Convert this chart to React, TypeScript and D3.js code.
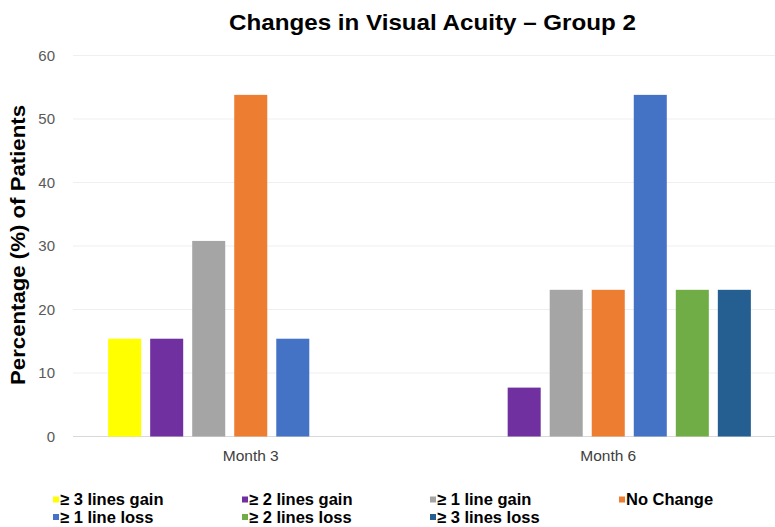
import React from "react";
import * as d3 from "d3";

const categories = ["Month 3", "Month 6"];
const seriesNames = [
  "≥ 3 lines gain",
  "≥ 2 lines gain",
  "≥ 1 line gain",
  "No Change",
  "≥ 1 line loss",
  "≥ 2 lines loss",
  "≥ 3 lines loss",
];
const seriesColors = ["#FFFF00", "#7030A0", "#A5A5A5", "#ED7D31", "#4472C4", "#70AD47", "#255E91"];
// values per series: [Month 3, Month 6]
const month3Values = [15.4, 15.4, 30.8, 53.8, 15.4, 0, 0];
const month6Values = [0, 7.7, 23.1, 23.1, 53.8, 23.1, 23.1];
const yTicks = [0, 10, 20, 30, 40, 50, 60];

const W = 775;
const H = 527;

export default function App() {
  const x0 = d3.scaleBand<string>().domain(categories).range([72, 787]).paddingInner(0).paddingOuter(0);
  const x1 = d3
    .scaleBand<string>()
    .domain(seriesNames)
    .range([0, x0.bandwidth()])
    .paddingInner(9 / 42)
    .paddingOuter(0.86);
  const y = d3.scaleLinear().domain([0, 60]).range([436.5, 55.5]);
  const valuesByCat = [month3Values, month6Values];
  const font = "'Liberation Sans', Arial, sans-serif";

  const legendCols = [53, 242, 430, 619];
  const legendRows = [499.5, 517];

  return (
    <svg
      width={W}
      height={H}
      style={{ position: "absolute", left: 0, top: 0, background: "#fff" }}
      fontFamily={font}
    >
      <rect x={0} y={0} width={W} height={H} fill="#fff" />
      {yTicks.map((t) => (
        <g key={t}>
          <line x1={73} x2={W} y1={y(t)} y2={y(t)} stroke={t === 0 ? "#D9D9D9" : "#EFEFEF"} strokeWidth={1} />
          <text x={55} y={y(t)} dy="0.35em" textAnchor="end" fontSize={15} fill="#595959">
            {t}
          </text>
        </g>
      ))}
      {categories.map((c, ci) => (
        <g key={c} transform={`translate(${x0(c)},0)`}>
          {seriesNames.map((s, si) => {
            const v = valuesByCat[ci][si];
            if (!v) return null;
            return (
              <rect
                key={s}
                x={x1(s)}
                y={y(v)}
                width={x1.bandwidth()}
                height={y(0) - y(v)}
                fill={seriesColors[si]}
              />
            );
          })}
          <text
            x={(x0.bandwidth()) / 2}
            y={461}
            textAnchor="middle"
            fontSize={15.5}
            fill="#404040"
          >
            {c}
          </text>
        </g>
      ))}
      <text
        x={432.5}
        y={30}
        textAnchor="middle"
        fontSize={22}
        fontWeight="bold"
        fill="#000"
        textLength={407}
        lengthAdjust="spacingAndGlyphs"
      >
        Changes in Visual Acuity – Group 2
      </text>
      <text
        transform={`translate(25,245) rotate(-90)`}
        textAnchor="middle"
        fontSize={20}
        fontWeight="bold"
        fill="#000"
        textLength={280}
        lengthAdjust="spacingAndGlyphs"
      >
        Percentage (%) of Patients
      </text>
      {seriesNames.map((s, i) => {
        const col = i % 4;
        const row = Math.floor(i / 4);
        const lx = legendCols[col];
        const ly = legendRows[row];
        return (
          <g key={s}>
            <rect x={lx} y={ly - 3} width={6} height={6} fill={seriesColors[i]} />
            <text x={lx + 7} y={ly} dy="0.35em" fontSize={16.5} fontWeight="bold" fill="#000">
              {s}
            </text>
          </g>
        );
      })}
    </svg>
  );
}
